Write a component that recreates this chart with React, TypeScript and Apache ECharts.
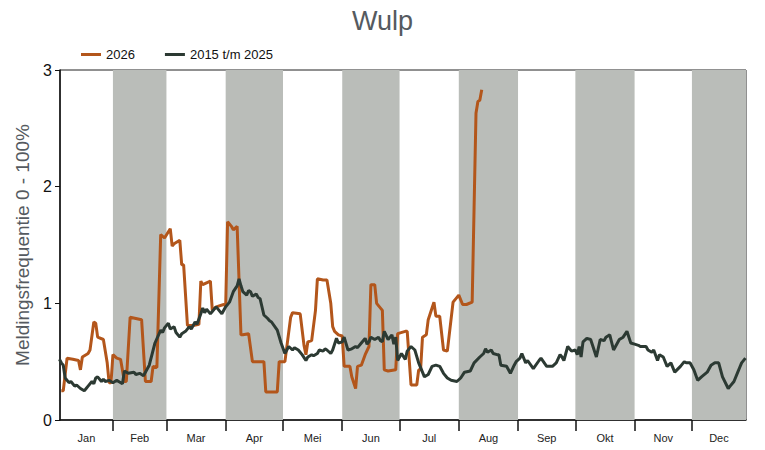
import React, { useEffect, useRef } from "react";
import * as echarts from "echarts";

const monthNames = ["Jan", "Feb", "Mar", "Apr", "Mei", "Jun", "Jul", "Aug", "Sep", "Okt", "Nov", "Dec"];
const monthStarts = [31, 59, 90, 120, 151, 181, 212, 243, 273, 304, 334];
const axisMin = 3.3;
const axisMax = 362.3;
const bandMonths = [1, 3, 5, 7, 9, 11];

const days2026 = [4, 5, 7, 10, 13, 14, 15, 18, 19, 21, 22, 23, 26, 28, 29, 30, 31, 33, 35, 37, 38, 40, 43, 46, 48, 51, 52, 54, 56, 58, 61, 62, 63, 66, 67, 68, 70, 73, 76, 77, 78, 82, 83, 85, 89, 90, 91, 93, 94, 96, 98, 99, 102, 104, 110, 111, 117, 118, 121, 124, 125, 129, 131, 132, 133, 135, 137, 138, 141, 143, 145, 146, 147, 149, 151, 152, 155, 156, 158, 159, 161, 163, 165, 166, 168, 169, 172, 173, 175, 179, 180, 184, 185, 187, 190, 191, 192, 193, 195, 196, 199, 200, 202, 204, 206, 209, 212, 214, 216, 219, 220, 221, 222, 223, 224];
const values2026 = [0.25, 0.25, 0.53, 0.52, 0.51, 0.43, 0.54, 0.57, 0.6, 0.84, 0.83, 0.71, 0.69, 0.49, 0.32, 0.32, 0.56, 0.53, 0.52, 0.33, 0.33, 0.88, 0.87, 0.86, 0.33, 0.33, 0.46, 0.45, 1.59, 1.56, 1.64, 1.49, 1.51, 1.54, 1.33, 1.33, 0.81, 0.81, 0.82, 1.19, 1.16, 1.19, 0.94, 0.97, 0.99, 0.98, 1.7, 1.66, 1.63, 1.66, 0.73, 0.73, 0.74, 0.5, 0.5, 0.24, 0.24, 0.5, 0.5, 0.88, 0.92, 0.91, 0.64, 0.56, 0.67, 0.68, 0.94, 1.21, 1.2, 1.2, 1.0, 0.8, 0.76, 0.73, 0.72, 0.46, 0.46, 0.37, 0.27, 0.46, 0.47, 0.56, 0.63, 1.16, 1.16, 1.0, 0.94, 0.43, 0.42, 0.43, 0.74, 0.76, 0.76, 0.3, 0.3, 0.43, 0.43, 0.71, 0.73, 0.86, 1.01, 0.89, 0.89, 0.6, 0.59, 1.01, 1.07, 0.99, 0.99, 1.01, 1.82, 2.63, 2.73, 2.74, 2.83];

const daysHist = [3, 4, 5, 6, 8, 9, 11, 12, 14, 16, 17, 18, 20, 21, 22, 23, 25, 26, 27, 29, 31, 33, 34, 36, 37, 39, 42, 43, 45, 47, 50, 53, 56, 57, 58, 60, 61, 63, 64, 66, 67, 69, 71, 72, 74, 75, 77, 78, 79, 80, 82, 83, 85, 86, 88, 89, 90, 92, 94, 96, 97, 98, 99, 101, 102, 103, 104, 106, 107, 108, 110, 112, 113, 114, 117, 119, 121, 123, 125, 126, 128, 130, 132, 133, 135, 136, 138, 139, 141, 142, 143, 145, 146, 148, 149, 151, 152, 154, 156, 158, 159, 161, 163, 164, 165, 166, 168, 170, 171, 172, 173, 175, 177, 178, 179, 180, 182, 184, 185, 187, 189, 191, 193, 194, 196, 198, 200, 202, 204, 206, 208, 211, 213, 215, 218, 220, 223, 225, 226, 227, 229, 230, 232, 233, 234, 237, 239, 241, 242, 244, 245, 247, 248, 251, 254, 255, 258, 261, 263, 265, 266, 267, 269, 271, 273, 274, 275, 276, 277, 279, 281, 282, 284, 286, 288, 289, 291, 293, 295, 296, 298, 300, 302, 304, 306, 307, 310, 311, 313, 314, 316, 317, 319, 321, 323, 325, 328, 330, 331, 333, 335, 337, 339, 342, 344, 346, 348, 350, 353, 354, 356, 358, 359, 360, 362];
const valuesHist = [0.52, 0.49, 0.47, 0.36, 0.32, 0.33, 0.29, 0.3, 0.27, 0.25, 0.27, 0.29, 0.33, 0.31, 0.36, 0.37, 0.33, 0.35, 0.33, 0.34, 0.32, 0.34, 0.33, 0.31, 0.42, 0.4, 0.41, 0.39, 0.4, 0.38, 0.47, 0.66, 0.77, 0.75, 0.79, 0.83, 0.78, 0.8, 0.75, 0.71, 0.74, 0.76, 0.8, 0.78, 0.84, 0.82, 0.91, 0.96, 0.92, 0.95, 0.91, 0.93, 0.97, 0.95, 0.91, 0.94, 0.97, 1.01, 1.1, 1.15, 1.21, 1.15, 1.1, 1.07, 1.11, 1.1, 1.06, 1.08, 1.05, 1.04, 0.9, 0.87, 0.85, 0.84, 0.77, 0.66, 0.57, 0.63, 0.6, 0.62, 0.6, 0.56, 0.51, 0.54, 0.56, 0.55, 0.57, 0.6, 0.59, 0.61, 0.6, 0.57, 0.6, 0.7, 0.66, 0.67, 0.71, 0.6, 0.61, 0.63, 0.62, 0.66, 0.7, 0.65, 0.67, 0.71, 0.69, 0.71, 0.68, 0.67, 0.76, 0.69, 0.73, 0.65, 0.71, 0.51, 0.57, 0.52, 0.59, 0.63, 0.6, 0.49, 0.41, 0.37, 0.39, 0.46, 0.47, 0.46, 0.4, 0.36, 0.34, 0.33, 0.36, 0.41, 0.42, 0.49, 0.54, 0.57, 0.61, 0.58, 0.6, 0.57, 0.56, 0.56, 0.47, 0.46, 0.4, 0.47, 0.5, 0.53, 0.57, 0.49, 0.51, 0.44, 0.51, 0.53, 0.46, 0.46, 0.49, 0.56, 0.54, 0.51, 0.63, 0.59, 0.6, 0.56, 0.63, 0.54, 0.67, 0.7, 0.69, 0.64, 0.54, 0.69, 0.68, 0.71, 0.73, 0.6, 0.66, 0.69, 0.71, 0.76, 0.66, 0.65, 0.64, 0.63, 0.63, 0.6, 0.58, 0.6, 0.51, 0.56, 0.54, 0.46, 0.49, 0.41, 0.46, 0.5, 0.49, 0.49, 0.43, 0.34, 0.37, 0.41, 0.47, 0.49, 0.49, 0.37, 0.27, 0.29, 0.33, 0.41, 0.45, 0.49, 0.53];

const yTicks = [0, 1, 2, 3];

const FONT = "'Liberation Sans', Arial, sans-serif";

export default function App() {
  const ref = useRef<HTMLDivElement>(null);
  useEffect(() => {
    if (!ref.current) return;
    document.body.style.margin = "0";
    const chart = echarts.init(ref.current, null, { renderer: "svg" });
    const bounds = [axisMin, ...monthStarts, axisMax];
    const mids = monthNames.map((_, i) => (bounds[i] + bounds[i + 1]) / 2);
    const bands = bandMonths.map((m) => [{ xAxis: bounds[m] }, { xAxis: bounds[m + 1] }]);
    chart.setOption({
      animation: false,
      title: {
        text: "Wulp",
        left: "center",
        top: 2,
        textStyle: { fontFamily: FONT, fontSize: 27, fontWeight: "normal", color: "#555a60" },
      },
      legend: {
        data: ["2026", "2015 t/m 2025"],
        left: 76,
        top: 43,
        icon: "rect",
        itemWidth: 20,
        itemHeight: 3,
        itemGap: 30,
        textStyle: { fontFamily: FONT, fontSize: 13, color: "#111" },
      },
      grid: {
        left: 60,
        right: 19,
        top: 70,
        bottom: 30,
        show: true,
        borderColor: "#222",
        borderWidth: 1,
        backgroundColor: "transparent",
      },
      xAxis: {
        type: "value",
        min: axisMin,
        max: axisMax,
        splitLine: { show: false },
        axisLine: { lineStyle: { color: "#111", width: 1.5 } },
        axisTick: {
          show: true,
          customValues: monthStarts,
          length: 11,
          lineStyle: { color: "#111", width: 1.5 },
        },
        axisLabel: {
          customValues: mids,
          formatter: (v: number) => {
            const i = mids.findIndex((m) => Math.abs(m - v) < 0.01);
            return i >= 0 ? monthNames[i] : "";
          },
          fontFamily: FONT,
          fontSize: 11,
          color: "#222",
          margin: 12,
        },
      },
      yAxis: {
        type: "value",
        min: 0,
        max: 3,
        interval: 1,
        name: "Meldingsfrequentie 0 - 100%",
        nameLocation: "middle",
        nameGap: 23,
        nameTextStyle: { fontFamily: FONT, fontSize: 19, color: "#555a60" },
        splitLine: { show: false },
        axisLine: { show: true, lineStyle: { color: "#111", width: 1.5 } },
        axisTick: { show: true, length: 5, lineStyle: { color: "#111" } },
        axisLabel: {
          fontFamily: FONT,
          fontSize: 16,
          color: "#111",
          margin: 8,
          customValues: yTicks,
        },
      },
      series: [
        {
          name: "bands",
          type: "line",
          data: [],
          silent: true,
          z: 1,
          markArea: {
            silent: true,
            itemStyle: { color: "#babdb9" },
            data: bands,
          },
        },
        {
          name: "2026",
          type: "line",
          z: 3,
          showSymbol: false,
          color: "#b3561b",
          lineStyle: { width: 3, color: "#b3561b" },
          data: days2026.map((d, i) => [d, values2026[i]]),
        },
        {
          name: "2015 t/m 2025",
          type: "line",
          z: 4,
          showSymbol: false,
          color: "#2c3a33",
          lineStyle: { width: 3, color: "#2c3a33" },
          data: daysHist.map((d, i) => [d, valuesHist[i]]),
        },
      ],
    });
    return () => chart.dispose();
  }, []);
  return <div ref={ref} style={{ width: 765, height: 450 }} />;
}
